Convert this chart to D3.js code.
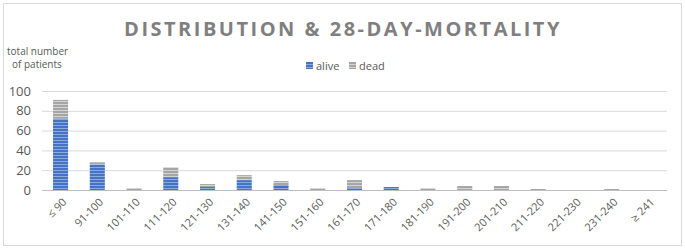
<!DOCTYPE html>
<html>
<head>
<meta charset="utf-8">
<script src="https://cdnjs.cloudflare.com/ajax/libs/d3/7.8.5/d3.min.js"></script>
<style>
  body { margin: 0; background: #fff; }
  svg { display: block; font-family: "Open Sans", "Liberation Sans", sans-serif; }
</style>
</head>
<body>
<div id="chart"></div>
<script>
// categories and counts
const categories = ['≤ 90', '91-100', '101-110', '111-120', '121-130', '131-140', '141-150', '151-160',
    '161-170', '171-180', '181-190', '191-200', '201-210', '211-220', '221-230', '231-240', '≥ 241'];
const alive = [72, 26, 0, 13, 3, 10, 5, 0, 2, 3, 0, 0, 0, 0, 0, 0, 0];
const dead  = [19, 2, 2, 10, 3, 5, 4, 2, 8, 0, 2, 4, 4, 1, 0, 1, 0];
const yTicks = [0, 20, 40, 60, 80, 100];
const seriesNames = ['alive', 'dead'];

const W = 685, H = 250;
const margin = { left: 42, right: 18, top: 91, bottom: 60 };

const svg = d3.select('#chart').append('svg')
    .attr('width', W)
    .attr('height', H);

// stripe patterns
const defs = svg.append('defs');
const pats = [
    { id: 'pAlive', base: '#4472c4', line: '#8eaadb' },
    { id: 'pDead', base: '#a5a5a5', line: '#d4d4d4' }
];
pats.forEach(p => {
    const pat = defs.append('pattern')
        .attr('id', p.id)
        .attr('patternUnits', 'userSpaceOnUse')
        .attr('width', 6).attr('height', 3);
    pat.append('rect').attr('width', 6).attr('height', 3).attr('fill', p.base);
    pat.append('rect').attr('y', 2).attr('width', 6).attr('height', 1).attr('fill', p.line);
});

// frame
svg.append('rect')
    .attr('x', 3.5).attr('y', 3.5)
    .attr('width', 678).attr('height', 242)
    .attr('fill', 'none')
    .attr('stroke', '#d9d9d9');

// title
svg.append('text')
    .attr('x', 343).attr('y', 36)
    .attr('text-anchor', 'middle')
    .attr('font-size', 20)
    .attr('font-weight', 'bold')
    .attr('letter-spacing', 2.5)
    .attr('fill', '#7f7f7f')
    .text('DISTRIBUTION & 28-DAY-MORTALITY');

// y axis title
svg.append('text')
    .attr('font-size', 10)
    .attr('fill', '#595959')
    .selectAll('tspan')
    .data(['total number', 'of patients'])
    .enter().append('tspan')
    .attr('x', (d, i) => i ? 12 : 7)
    .attr('y', (d, i) => 55 + i * 13)
    .text(d => d);

const x = d3.scaleBand()
    .domain(categories)
    .range([margin.left, W - margin.right])
    .paddingInner(0.59)
    .paddingOuter(0.3);

const y = d3.scaleLinear()
    .domain([0, 100])
    .range([H - margin.bottom, margin.top]);

// gridlines
svg.append('g')
    .selectAll('line')
    .data(yTicks.slice(1))
    .enter().append('line')
    .attr('x1', margin.left).attr('x2', W - margin.right)
    .attr('y1', d => y(d) + 0.5).attr('y2', d => y(d) + 0.5)
    .attr('stroke', '#d9d9d9')
    .attr('stroke-width', 1);

// y labels
svg.append('g')
    .selectAll('text')
    .data(yTicks)
    .enter().append('text')
    .attr('x', 31)
    .attr('y', d => y(d) + 4.5)
    .attr('text-anchor', 'end')
    .attr('font-size', 13)
    .attr('fill', '#595959')
    .text(d => d);

// stacked bars
const rows = categories.map((c, i) => ({ cat: c, alive: alive[i], dead: dead[i] }));
const stack = d3.stack().keys(seriesNames)(rows);

svg.append('g')
    .selectAll('g')
    .data(stack)
    .enter().append('g')
    .attr('fill', (d, i) => `url(#${pats[i].id})`)
    .selectAll('rect')
    .data(d => d)
    .enter().append('rect')
    .attr('x', d => x(d.data.cat))
    .attr('width', x.bandwidth())
    .attr('y', d => y(d[1]))
    .attr('height', d => y(d[0]) - y(d[1]));

// x axis line
svg.append('line')
    .attr('x1', margin.left).attr('x2', W - margin.right)
    .attr('y1', y(0) + 0.5).attr('y2', y(0) + 0.5)
    .attr('stroke', '#bfbfbf')
    .attr('stroke-width', 1.2);

// x labels
svg.append('g')
    .selectAll('text')
    .data(categories)
    .enter().append('text')
    .attr('transform', d => `translate(${x(d) + x.bandwidth() / 2 + 4},${y(0) + 10}) rotate(-45)`)
    .attr('text-anchor', 'end')
    .attr('dy', '0.35em')
    .attr('font-size', 11)
    .attr('fill', '#595959')
    .text(d => d);

// legend
const legend = svg.append('g').attr('transform', 'translate(306,62)');
const lx = [0, 43];
seriesNames.forEach((s, i) => {
    legend.append('rect')
        .attr('x', lx[i]).attr('y', 0)
        .attr('width', 7).attr('height', 7)
        .attr('fill', `url(#${pats[i].id})`);
    legend.append('text')
        .attr('x', lx[i] + 10).attr('y', 7.5)
        .attr('font-size', 11)
        .attr('fill', '#595959')
        .text(s);
});
</script>
</body>
</html>
